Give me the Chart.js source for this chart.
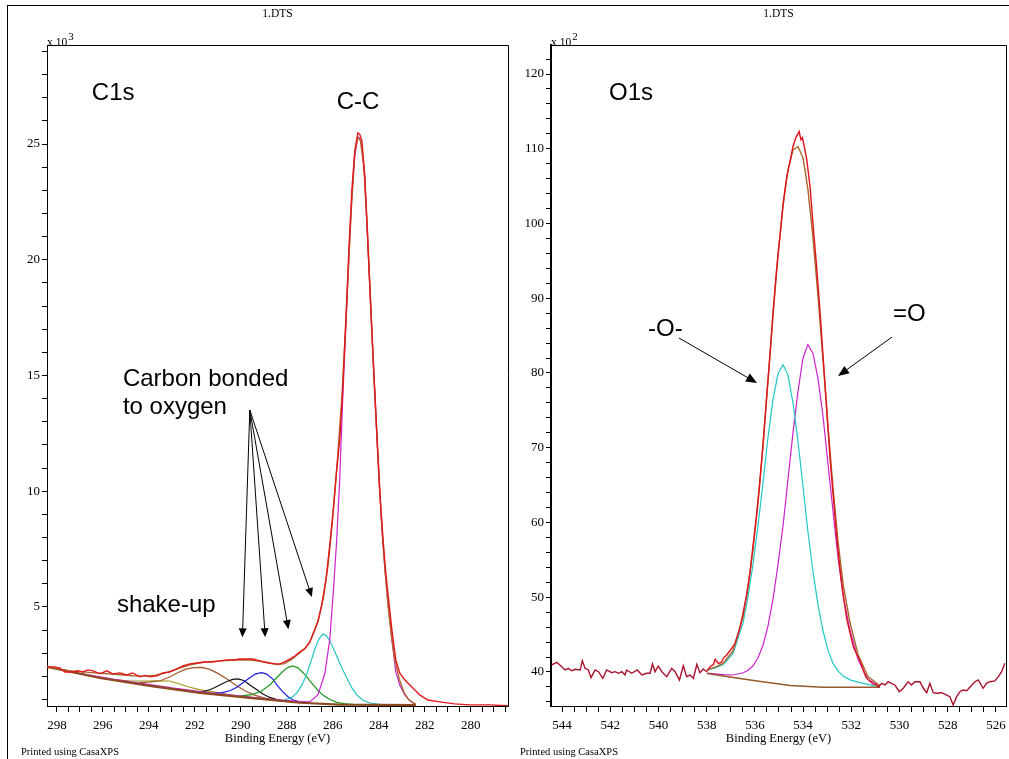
<!DOCTYPE html>
<html>
<head>
<meta charset="utf-8">
<script src="https://cdn.jsdelivr.net/npm/chart.js@4.4.1/dist/chart.umd.min.js"></script>
<style>
  html, body { margin: 0; padding: 0; background: #fff; overflow: hidden; }
  #page { position: relative; width: 1009px; height: 759px; overflow: hidden; }
  #frame { position: absolute; left: 7px; top: 5px; width: 1010px; height: 760px;
           border-left: 1px solid #000; border-top: 1px solid #000; }
  canvas { position: absolute; top: 0; }
</style>
</head>
<body>
<div id="page">
  <div id="frame"></div>
  <canvas id="c1s" width="512" height="759" style="left:0; width:512px; height:759px"></canvas>
  <canvas id="o1s" width="497" height="759" style="left:512px; width:497px; height:759px"></canvas>
</div>
<script>
// ---- C 1s : [binding energy (eV), counts x10^3] ----
const c1sRaw = [[298.43,2.41],[298.09,2.41],[297.87,2.36],[297.65,2.19],[297.30,2.19],[297.09,2.24],[296.87,2.19],[296.65,2.28],[296.43,2.24],[296.13,2.11],[295.83,2.24],[295.57,2.11],[295.26,2.15],[294.96,2.06],[294.70,2.15],[294.39,1.98],[294.17,2.04],[293.96,1.98],[293.65,2.02],[293.39,2.15],[293.09,2.19],[292.78,2.32],[292.52,2.45],[292.22,2.54],[291.91,2.58],[291.57,2.62],[291.22,2.62],[290.91,2.67],[290.61,2.71],[290.35,2.71],[290.04,2.75],[289.74,2.75],[289.48,2.75],[289.17,2.67],[288.96,2.62],[288.74,2.58],[288.48,2.54],[288.30,2.54],[288.13,2.62],[287.87,2.75],[287.65,2.88],[287.43,3.06],[287.22,3.19],[287.00,3.49],[286.83,3.92],[286.65,4.35],[286.48,5.09],[286.30,6.17],[286.13,7.68],[285.96,9.41],[285.83,10.92],[285.70,12.21],[285.57,14.37],[285.43,17.40],[285.30,20.42],[285.17,23.01],[285.04,24.74],[284.91,25.48],[284.83,25.43],[284.74,25.17],[284.61,23.66],[284.48,20.85],[284.35,18.05],[284.22,15.24],[284.09,12.65],[283.96,10.05],[283.83,8.11],[283.70,6.51],[283.57,5.30],[283.43,4.01],[283.26,2.71],[283.09,2.15],[282.87,1.85],[282.65,1.63],[282.43,1.41],[282.22,1.20],[281.87,0.98],[281.35,0.90],[280.70,0.81],[280.04,0.77],[279.17,0.77],[278.39,0.73]];
const c1sEnvelope = [[298.43,2.41],[297.5,2.25],[296.5,2.16],[295.5,2.09],[294.7,2.03],[294.2,2.01],[293.7,2.05],[293.2,2.17],[292.7,2.35],[292.2,2.50],[291.7,2.60],[291.2,2.65],[290.7,2.68],[290.2,2.71],[289.7,2.72],[289.2,2.66],[288.8,2.58],[288.4,2.51],[288.1,2.55],[287.8,2.72],[287.5,2.97],[287.2,3.22],[287.0,3.48],[286.8,3.95],[286.6,4.55],[286.4,5.45],[286.2,6.85],[286.0,8.90],[285.8,11.35],[285.6,14.10],[285.4,17.95],[285.2,22.10],[285.05,24.55],[284.92,25.30],[284.8,25.15],[284.65,24.05],[284.5,21.40],[284.35,17.95],[284.2,14.75],[284.05,11.70],[283.9,9.00],[283.75,6.85],[283.6,5.10],[283.45,3.75],[283.3,2.70],[283.1,1.85],[282.9,1.30],[282.7,1.00],[282.5,0.85],[282.39,0.80]];
const c1sBackground = [[298.43,2.41],[296.13,1.93],[293.96,1.59],[291.78,1.29],[289.61,1.07],[287.43,0.86],[285.70,0.78],[282.39,0.76]];
const c1sCC = [[298.43,2.42],[297.0,2.13],[295.5,1.87],[294.4,1.71],[293.0,1.50],[291.5,1.31],[290.0,1.15],[288.5,1.00],[287.5,0.92],[287.0,0.90],[286.65,1.20],[286.35,2.10],[286.13,3.60],[285.96,5.90],[285.83,7.90],[285.70,10.50],[285.57,13.94],[285.43,17.18],[285.30,20.21],[285.17,22.80],[285.04,24.53],[284.91,25.30],[284.83,25.26],[284.74,24.96],[284.61,23.53],[284.48,20.77],[284.35,17.92],[284.22,15.15],[284.09,12.56],[283.96,9.97],[283.83,7.89],[283.70,6.25],[283.57,4.87],[283.43,3.57],[283.26,2.19],[283.09,1.63],[282.87,1.20],[282.65,0.94],[282.39,0.77]];
const c1sCO = [[288.5,0.96],[288.1,0.98],[287.8,1.08],[287.55,1.30],[287.35,1.62],[287.15,2.05],[286.95,2.65],[286.78,3.18],[286.6,3.62],[286.43,3.83],[286.26,3.75],[286.04,3.36],[285.83,2.88],[285.61,2.37],[285.39,1.93],[285.17,1.50],[284.96,1.20],[284.70,0.98],[284.39,0.85],[283.96,0.79],[283.5,0.77]];
const c1sCdO = [[290.0,1.16],[289.5,1.21],[289.1,1.37],[288.74,1.63],[288.43,1.95],[288.17,2.22],[287.96,2.38],[287.74,2.45],[287.52,2.37],[287.30,2.17],[287.09,1.92],[286.87,1.65],[286.65,1.40],[286.43,1.19],[286.13,1.00],[285.83,0.88],[285.5,0.82],[285.04,0.78]];
const c1sOCO = [[291.2,1.27],[290.8,1.30],[290.48,1.38],[290.17,1.53],[289.91,1.72],[289.61,1.94],[289.35,2.11],[289.09,2.16],[288.87,2.10],[288.61,1.88],[288.39,1.58],[288.17,1.33],[287.96,1.13],[287.74,0.99],[287.43,0.89],[287.0,0.84]];
const c1sCarbonate = [[291.9,1.33],[291.6,1.35],[291.35,1.42],[291.13,1.52],[290.87,1.65],[290.61,1.78],[290.35,1.87],[290.13,1.89],[289.87,1.82],[289.61,1.63],[289.30,1.42],[289.04,1.24],[288.74,1.09],[288.43,1.00],[288.0,0.92]];
const c1sShakeUp = [[294.4,1.73],[294.0,1.75],[293.5,1.81],[293.1,1.97],[292.75,2.16],[292.4,2.31],[292.05,2.38],[291.7,2.39],[291.35,2.30],[291.0,2.13],[290.6,1.89],[290.2,1.61],[289.8,1.37],[289.4,1.19],[289.0,1.07],[288.5,0.98],[288.0,0.91]];
const c1sShakeUpWide = [[298.43,2.41],[297.5,2.24],[296.5,2.02],[295.5,1.86],[294.8,1.80],[294.2,1.80],[293.6,1.81],[293.1,1.80],[292.7,1.68],[292.3,1.55],[291.8,1.43],[291.2,1.33],[290.6,1.22],[290.0,1.14],[289.4,1.06],[288.8,0.99],[288.0,0.91]];

// ---- O 1s : [binding energy (eV), counts x10^2] ----
const o1sRaw = [[544.43,40.94],[544.22,41.30],[544.01,40.71],[543.88,40.27],[543.74,40.49],[543.60,40.17],[543.46,40.36],[543.25,40.27],[543.16,41.51],[543.05,40.49],[542.91,40.27],[542.80,39.24],[542.63,40.27],[542.49,40.04],[542.31,39.16],[542.15,40.27],[541.94,39.91],[541.80,40.04],[541.66,39.83],[541.52,40.04],[541.39,39.60],[541.32,40.27],[541.11,39.83],[540.88,40.27],[540.69,39.60],[540.49,39.83],[540.35,39.83],[540.25,41.07],[540.14,40.04],[540.01,40.80],[539.86,40.04],[539.66,39.37],[539.45,40.49],[539.31,40.04],[539.13,38.93],[538.97,40.84],[538.83,39.37],[538.69,39.60],[538.55,39.16],[538.41,41.03],[538.28,39.91],[538.14,40.40],[538.00,40.04],[537.86,40.71],[537.72,41.00],[537.65,41.70],[537.52,41.16],[537.38,41.31],[537.31,41.83],[537.17,42.27],[536.96,43.17],[536.82,43.84],[536.62,45.90],[536.49,47.90],[536.35,50.20],[536.20,53.40],[536.08,56.80],[535.95,60.40],[535.79,65.60],[535.66,70.60],[535.50,77.30],[535.37,82.60],[535.25,88.00],[535.10,93.80],[534.96,98.30],[534.83,102.60],[534.68,106.20],[534.54,108.30],[534.42,110.30],[534.30,111.50],[534.16,112.30],[534.09,111.20],[534.03,111.50],[533.95,110.30],[533.85,108.60],[533.71,104.90],[533.58,99.60],[533.44,94.30],[533.30,88.40],[533.17,82.20],[533.02,75.30],[532.88,68.50],[532.75,63.60],[532.61,58.20],[532.47,53.80],[532.33,50.20],[532.19,47.10],[532.05,45.20],[531.92,43.40],[531.78,42.40],[531.71,42.00],[531.60,41.20],[531.50,40.20],[531.39,39.30],[531.23,38.80],[531.10,38.40],[530.93,38.26],[530.88,37.95],[530.74,38.49],[530.60,38.26],[530.47,38.70],[530.33,38.49],[530.19,38.26],[530.01,37.36],[529.84,37.82],[529.64,38.70],[529.50,38.26],[529.36,38.70],[529.15,38.70],[529.01,37.82],[528.87,37.23],[528.74,38.49],[528.60,37.23],[528.46,37.15],[528.25,37.23],[528.04,36.92],[527.91,36.70],[527.77,35.59],[527.63,36.70],[527.49,37.36],[527.36,37.59],[527.21,37.50],[527.08,37.95],[526.87,38.70],[526.73,38.93],[526.53,37.82],[526.39,38.49],[526.25,38.70],[526.04,38.80],[525.90,39.37],[525.76,40.04],[525.63,41.16]];
const o1sEnvelope = [[537.99,40.3],[537.65,40.65],[537.32,41.15],[536.91,42.8],[536.49,47.4],[536.29,51.2],[536.08,56.3],[535.87,62.7],[535.66,70.3],[535.46,78.8],[535.25,87.6],[535.04,95.9],[534.83,102.4],[534.63,107.15],[534.42,109.85],[534.21,110.3],[534.00,108.75],[533.80,104.6],[533.59,98.15],[533.38,90.25],[533.17,81.65],[532.97,72.95],[532.76,64.75],[532.55,57.45],[532.34,51.75],[532.05,46.55],[531.72,42.35],[531.31,39.4],[530.81,38.15]];
const o1sBackground = [[537.99,39.80],[537.03,39.33],[535.91,38.80],[534.54,38.19],[533.17,37.95],[530.81,37.95]];
const o1sEther = [[537.99,40.2],[537.65,40.55],[537.32,40.97],[536.91,42.45],[536.49,46.56],[536.29,49.95],[536.08,54.35],[535.87,59.58],[535.66,65.4],[535.46,71.3],[535.25,76.4],[535.04,79.9],[534.83,81.1],[534.63,79.75],[534.42,76.05],[534.21,70.8],[534.00,64.75],[533.80,58.8],[533.59,53.45],[533.38,48.95],[533.17,45.45],[532.97,42.95],[532.76,41.15],[532.55,40.15],[532.34,39.45],[532.05,38.95],[531.72,38.65],[531.31,38.35],[530.81,38.0]];
const o1sCarbonyl = [[537.99,39.85],[537.65,39.75],[537.32,39.65],[536.91,39.6],[536.49,39.9],[536.29,40.2],[536.08,40.8],[535.87,41.9],[535.66,43.6],[535.46,46.1],[535.25,49.7],[535.04,54.4],[534.83,59.6],[534.63,65.65],[534.42,71.95],[534.21,77.6],[534.00,82.05],[533.80,83.8],[533.59,82.65],[533.38,79.25],[533.17,74.15],[532.97,67.95],[532.76,61.55],[532.55,55.25],[532.34,50.25],[532.05,45.55],[531.72,41.65],[531.31,39.0],[530.81,38.1]];

// axis ranges and tick steps
const c1sRange = { xMin: 278.38, xMax: 298.43, yMin: 0.72, yMax: 29.28, yStep: 1, yMajor: 5 };
const o1sRange = { xMin: 525.58, xMax: 544.46, yMin: 35.45, yMax: 123.88, yStep: 2, yMajor: 10 };

const SERIF = '"Liberation Serif", "Times New Roman", serif';
const SANS = '"Liberation Sans", Arial, sans-serif';

function arrow(ctx, x0, y0, x1, y1, len, half) {
  const a = Math.atan2(y1 - y0, x1 - x0);
  ctx.beginPath();
  ctx.moveTo(x0, y0);
  ctx.lineTo(x1 - Math.cos(a) * len * 0.8, y1 - Math.sin(a) * len * 0.8);
  ctx.stroke();
  ctx.beginPath();
  ctx.moveTo(x1, y1);
  ctx.lineTo(x1 - Math.cos(a) * len + Math.sin(a) * half, y1 - Math.sin(a) * len - Math.cos(a) * half);
  ctx.lineTo(x1 - Math.cos(a) * len - Math.sin(a) * half, y1 - Math.sin(a) * len + Math.cos(a) * half);
  ctx.closePath();
  ctx.fill();
}

// frame, header/footer texts, labels and arrows
function makeDecor(d) {
  return {
    id: 'decor',
    afterDraw(chart) {
      const { ctx, chartArea: a, scales: { x, y } } = chart;
      ctx.save();
      ctx.strokeStyle = '#000';
      ctx.fillStyle = '#000';
      ctx.lineWidth = 1;
      ctx.beginPath();
      ctx.moveTo(a.left, a.top + 0.5);
      ctx.lineTo(a.right + 0.5, a.top + 0.5);
      ctx.lineTo(a.right + 0.5, a.bottom);
      ctx.stroke();

      ctx.textBaseline = 'alphabetic';
      ctx.textAlign = 'center';
      ctx.font = '11.5px ' + SERIF;
      ctx.fillText('1.DTS', (a.left + a.right) / 2, 17);

      ctx.textAlign = 'left';
      ctx.font = '11.5px ' + SERIF;
      ctx.fillText('x 10', a.left, a.top + 1);
      const w = ctx.measureText('x 10').width;
      ctx.font = '11px ' + SERIF;
      ctx.fillText(d.exponent, a.left + w + 1, a.top - 5);

      ctx.font = '10.5px ' + SERIF;
      ctx.fillText('Printed using CasaXPS', d.printX, 755);

      ctx.font = '24px ' + SANS;
      d.labels.forEach(l => ctx.fillText(l.text, x.getPixelForValue(l.e), y.getPixelForValue(l.v)));

      ctx.lineWidth = 1;
      d.arrows.forEach(r => arrow(ctx,
        x.getPixelForValue(r.from[0]), y.getPixelForValue(r.from[1]),
        x.getPixelForValue(r.to[0]), y.getPixelForValue(r.to[1]), d.head, d.headHalf));
      ctx.restore();
    }
  };
}

function makeChart(id, range, series, opt) {
  return new Chart(document.getElementById(id), {
    type: 'scatter',
    data: {
      datasets: series.map(s => ({
        data: s.pts.map(([e, v]) => ({ x: e, y: v })),
        showLine: true, pointRadius: 0, fill: false, tension: 0,
        borderColor: s.color, borderWidth: s.width, segment: s.segment
      }))
    },
    options: {
      animation: false, responsive: false, devicePixelRatio: 1, events: [],
      layout: { padding: { left: 0, right: opt.padRight, top: 45, bottom: 0 } },
      plugins: { legend: { display: false }, tooltip: { enabled: false } },
      scales: {
        x: {
          type: 'linear', reverse: true, min: range.xMin, max: range.xMax,
          afterFit: s => { s.height = 53; s.paddingLeft = 0; s.paddingRight = 0; },
          ticks: {
            stepSize: 0.5, autoSkip: false, maxRotation: 0, includeBounds: false, padding: 6,
            color: '#000', font: { family: SERIF, size: 13 },
            callback: v => (v % 2 === 0 ? String(v) : '')
          },
          grid: { drawOnChartArea: false, drawTicks: true, tickLength: 6, tickColor: '#000' },
          border: { display: true, color: '#000', width: 1 },
          title: { display: true, text: 'Binding Energy (eV)', color: '#000',
                   font: { family: SERIF, size: 12.5 }, padding: { top: 0, bottom: 13 } }
        },
        y: {
          type: 'linear', min: range.yMin, max: range.yMax,
          afterFit: s => { s.width = opt.yWidth; s.paddingTop = 0; s.paddingBottom = 0; },
          ticks: {
            stepSize: range.yStep, autoSkip: false, includeBounds: false, padding: 2,
            color: '#000', font: { family: SERIF, size: 13 },
            callback: v => (v % range.yMajor === 0 ? String(v) : '')
          },
          grid: { drawOnChartArea: false, drawTicks: true, tickLength: 5, tickColor: '#000' },
          border: { display: true, color: '#000', width: opt.yBorder }
        }
      }
    },
    plugins: [makeDecor(opt.decor)]
  });
}

makeChart('c1s', c1sRange, [
  { pts: c1sRaw, color: '#e31a1c', width: 1.4 },
  { pts: c1sEnvelope, color: '#a8682c', width: 1.4 },
  { pts: c1sBackground, color: '#8a4a1e', width: 2.2 },
  { pts: c1sCC, color: '#cc22cc', width: 1.2 },
  { pts: c1sCO, color: '#22c4c4', width: 1.2 },
  { pts: c1sCdO, color: '#1e961e', width: 1.2 },
  { pts: c1sOCO, color: '#1a1ae6', width: 1.2 },
  { pts: c1sCarbonate, color: '#111111', width: 1.2 },
  { pts: c1sShakeUp, color: '#a0582a', width: 1.2 },
  { pts: c1sShakeUpWide, color: '#a09a1e', width: 1.2 }
], {
  padRight: 4, yWidth: 47, yBorder: 1,
  decor: {
    exponent: '3', printX: 21, head: 9, headHalf: 4,
    labels: [
      { text: 'C1s', e: 296.48, v: 26.90 },
      { text: 'C-C', e: 285.83, v: 26.51 },
      { text: 'Carbon bonded', e: 295.13, v: 14.55 },
      { text: 'to oxygen', e: 295.13, v: 13.34 },
      { text: 'shake-up', e: 295.39, v: 4.78 }
    ],
    arrows: [
      { from: [289.61, 13.51], to: [289.93, 3.69] },
      { from: [289.61, 13.51], to: [288.94, 3.69] },
      { from: [289.61, 13.51], to: [287.93, 4.04] },
      { from: [289.61, 13.51], to: [286.91, 5.43] }
    ]
  }
});

makeChart('o1s', o1sRange, [
  { pts: o1sRaw, color: '#e0141c', width: 1.4,
    segment: { borderColor: c => (c.p0.parsed.x <= 538.0 && c.p0.parsed.x >= 530.9 ? '#e0141c' : '#a8122c') } },
  { pts: o1sEnvelope, color: '#a8682c', width: 1.4 },
  { pts: o1sBackground, color: '#95592a', width: 1.6 },
  { pts: o1sEther, color: '#20c8c8', width: 1.2 },
  { pts: o1sCarbonyl, color: '#cc22cc', width: 1.2 }
], {
  padRight: 3, yWidth: 39, yBorder: 2,
  decor: {
    exponent: '2', printX: 8, head: 11, headHalf: 4.5,
    labels: [
      { text: 'O1s', e: 542.05, v: 116.52 },
      { text: '-O-', e: 540.43, v: 84.95 },
      { text: '=O', e: 530.27, v: 86.96 }
    ],
    arrows: [
      { from: [539.15, 84.68], to: [535.91, 78.66] },
      { from: [530.31, 84.81], to: [532.55, 79.60] }
    ]
  }
});
</script>
</body>
</html>
